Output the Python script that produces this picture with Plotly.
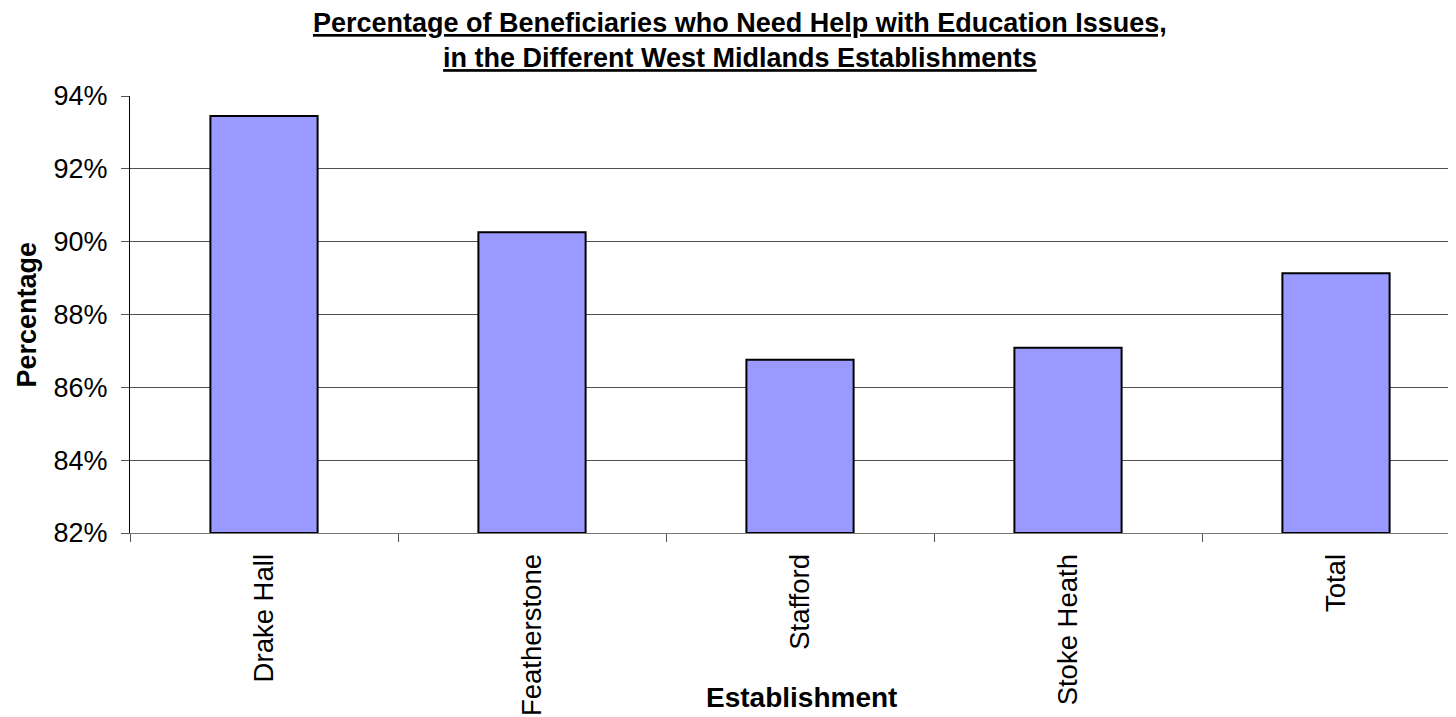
import plotly.graph_objects as go

categories = ["Drake Hall", "Featherstone", "Stafford", "Stoke Heath", "Total"]
values = [0.9345, 0.9026, 0.8676, 0.8709, 0.8913]
y_ticks = [0.82, 0.84, 0.86, 0.88, 0.90, 0.92, 0.94]
y_tick_labels = ["82%", "84%", "86%", "88%", "90%", "92%", "94%"]
BASE = 0.82

FONT = "Liberation Sans, Arial, sans-serif"

# page body has an 8px default margin; figure coords = screen coords - 8
L, T, B = 122, 88, 192
PLOT_W = 1456 - L

fig = go.Figure()
fig.add_trace(go.Bar(
    x=categories, y=[v - BASE for v in values], base=BASE,
    marker=dict(color="#9999FF", line=dict(color="black", width=2)),
    width=0.4, showlegend=False,
))

fig.update_layout(
    width=1456, height=717,
    margin=dict(l=L, r=0, t=T, b=B),
    paper_bgcolor="white", plot_bgcolor="white",
    font=dict(family=FONT, color="black"),
    xaxis=dict(
        type="category", range=[-0.5, -0.5 + PLOT_W / 268],
        tickson="boundaries", ticks="outside", ticklen=8, tickcolor="#555",
        tickangle=-90, tickfont=dict(size=27.5, family=FONT),
        ticklabelstandoff=9,
        showgrid=False, showline=True, linecolor="#777", linewidth=1,
        zeroline=False,
    ),
    yaxis=dict(
        range=[0.82, 0.94], tickvals=y_ticks, ticktext=y_tick_labels,
        ticks="outside", ticklen=8, tickcolor="#555",
        tickfont=dict(size=27, family=FONT),
        ticklabelstandoff=8,
        showgrid=True, gridcolor="#505050", gridwidth=1,
        showline=True, linecolor="black", linewidth=1, zeroline=False,
    ),
    annotations=[
        dict(text="<b><u>Percentage of Beneficiaries who Need Help with Education Issues,</u></b><br><b><u>in the Different West Midlands Establishments</u></b>",
             xref="paper", yref="paper", x=(732 - L) / PLOT_W, y=1, yshift=T + 1,
             xanchor="center", yanchor="top", showarrow=False, borderpad=0,
             font=dict(size=27, family=FONT)),
        dict(text="<b>Establishment</b>", xref="paper", yref="paper",
             x=(793 - L) / PLOT_W, y=0, yshift=-164,
             xanchor="center", yanchor="middle", showarrow=False,
             font=dict(size=28, family=FONT)),
        dict(text="<b>Percentage</b>", xref="paper", yref="paper",
             x=0, xshift=-104, y=0.5, textangle=-90,
             xanchor="center", yanchor="middle", showarrow=False,
             font=dict(size=27, family=FONT)),
    ],
)

fig.write_html("out.html")
